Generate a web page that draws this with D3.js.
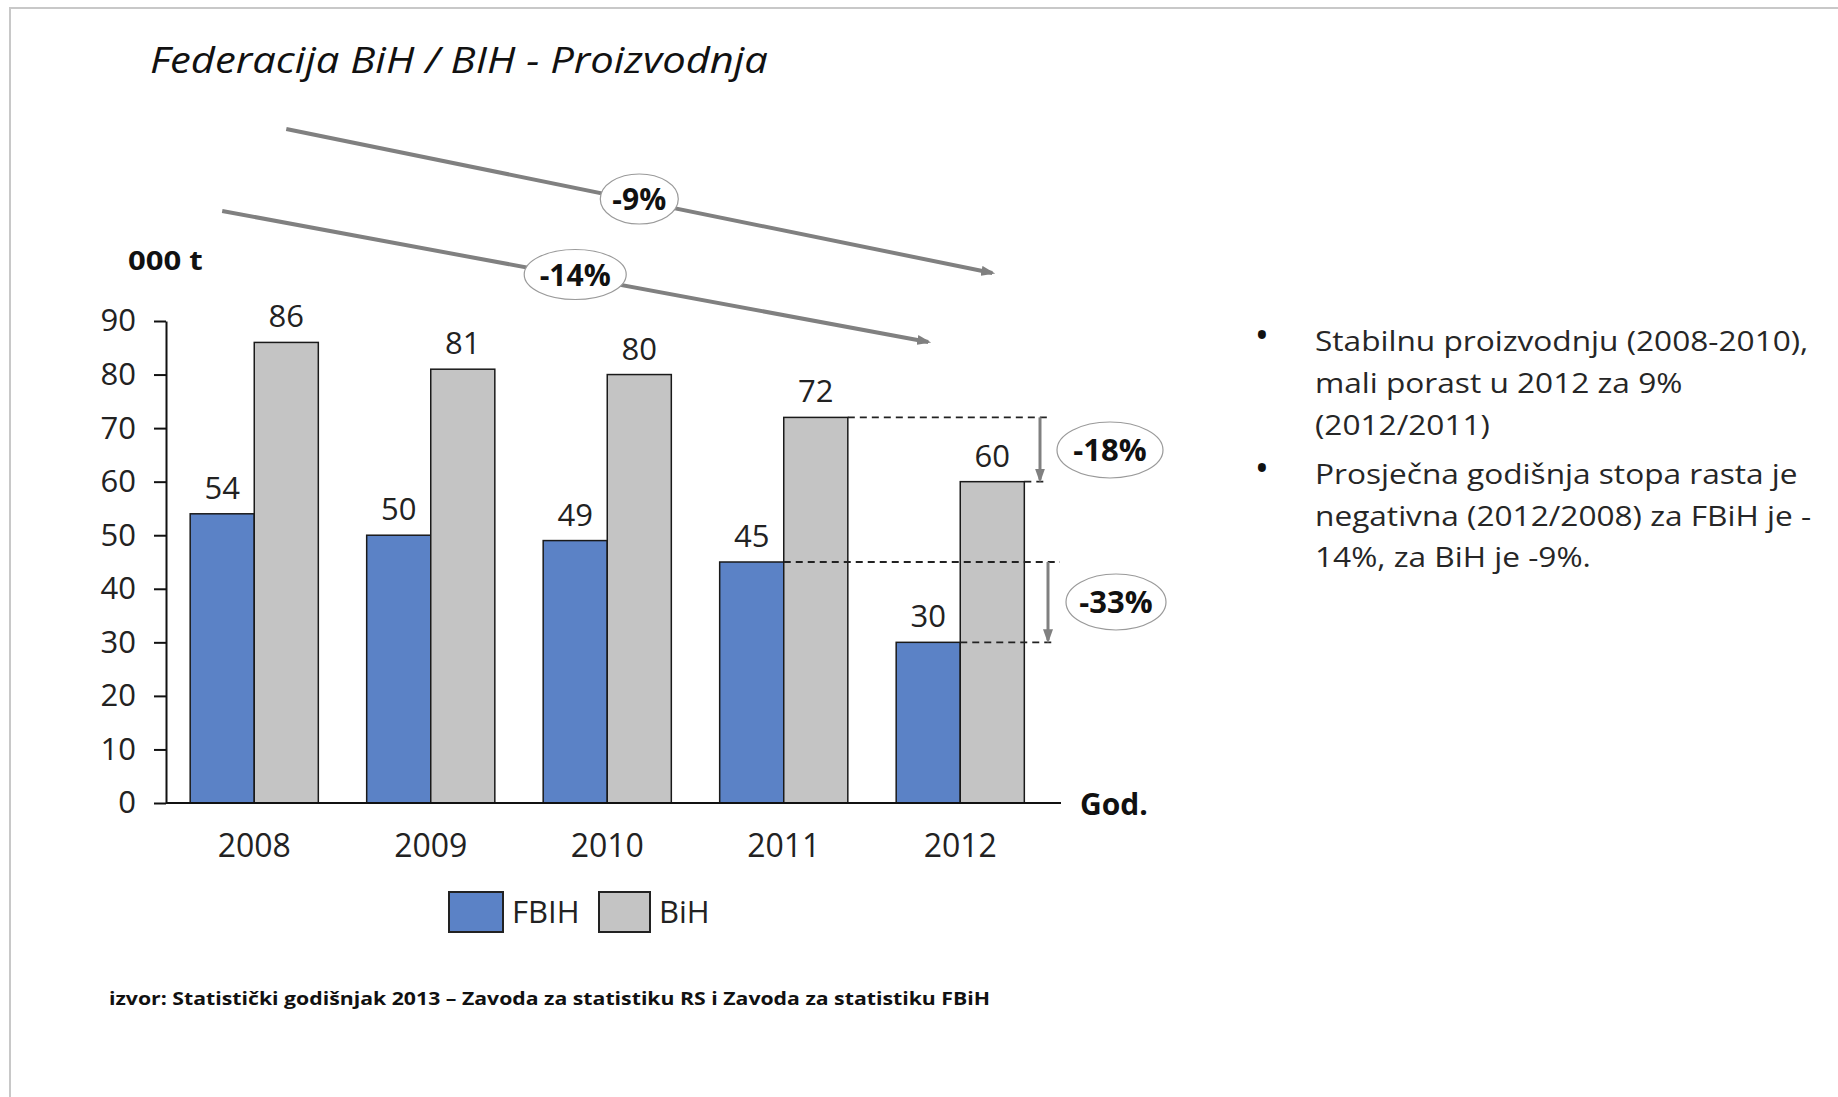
<!DOCTYPE html>
<html><head><meta charset="utf-8">
<script src="https://cdn.jsdelivr.net/npm/d3@7"></script>
<style>
body{margin:0;background:#fff}
svg{display:block}
text{font-family:"Open Sans",sans-serif}
</style>
</head><body>
<svg id="c" width="1838" height="1097"></svg>
<script>
// ---- data ----
const years = ["2008", "2009", "2010", "2011", "2012"];
const seriesNames = ["FBIH", "BiH"];
const fbih = [54, 50, 49, 45, 30];
const bih = [86, 81, 80, 72, 60];
const yTicks = [0, 10, 20, 30, 40, 50, 60, 70, 80, 90];
const trendLabels = ["-9%", "-14%"];          // BiH avg growth, FBiH avg growth
const changeLabels = ["-18%", "-33%"];        // BiH 2012/2011, FBiH 2012/2011
const titleText = "Federacija BiH / BIH - Proizvodnja";
const unitText = "000 t";
const xAxisText = "God.";
const sourceText = "izvor: Statistički godišnjak  2013 – Zavoda za statistiku RS i Zavoda za statistiku FBiH";
const bullets = [
  ["Stabilnu proizvodnju (2008-2010),", "mali porast u 2012 za 9%", "(2012/2011)"],
  ["Prosječna godišnja stopa rasta je", "negativna (2012/2008) za FBiH je -", "14%, za BiH je -9%."]
];

// ---- layout ----
const colors = {FBIH: "#5b82c6", BiH: "#c4c4c4"};
const values = {FBIH: fbih, BiH: bih};
const svg = d3.select("#c");

// slide frame
svg.append("rect").attr("x", 10).attr("y", 8).attr("width", 1900).attr("height", 1200)
  .attr("fill", "none").attr("stroke", "#c8c8c8").attr("stroke-width", 2);

const x0 = d3.scaleBand().domain(years).range([166, 1048.5]).paddingInner(0.274).paddingOuter(0.137);
const x1 = d3.scaleBand().domain(seriesNames).range([0, x0.bandwidth()]);
const y = d3.scaleLinear().domain([0, 90]).range([803, 321]);

// markers
const defs = svg.append("defs");
defs.append("marker").attr("id", "ah").attr("markerUnits", "userSpaceOnUse")
  .attr("viewBox", "0 0 14 10").attr("markerWidth", 14).attr("markerHeight", 10)
  .attr("refX", 11).attr("refY", 5).attr("orient", "auto")
  .append("path").attr("d", "M0,0 L14,5 L0,10 Z").attr("fill", "#808080");

// title
svg.append("text").attr("x", 150).attr("y", 73).attr("font-size", 37).attr("font-style", "italic")
  .attr("fill", "#111").attr("textLength", 618).attr("lengthAdjust", "spacingAndGlyphs").text(titleText);

// unit label
svg.append("text").attr("transform", "translate(128,270) scale(1.15,1)").attr("font-size", 27)
  .attr("font-weight", "bold").attr("fill", "#111").text(unitText);

// y axis
const yAxis = svg.append("g").attr("transform", "translate(166,0)")
  .call(d3.axisLeft(y).tickValues(yTicks).tickSize(12).tickSizeOuter(0).tickPadding(18));
yAxis.select(".domain").attr("stroke", "#111").attr("stroke-width", 2);
yAxis.selectAll(".tick line").attr("stroke", "#111").attr("stroke-width", 2);
yAxis.selectAll("text").attr("font-size", 31).attr("fill", "#222").attr("font-family", "Open Sans");

// bars
const groups = svg.append("g").selectAll("g").data(years).join("g")
  .attr("transform", d => `translate(${x0(d)},0)`);
groups.selectAll("rect").data((d, i) => seriesNames.map(s => ({s, v: values[s][i]}))).join("rect")
  .attr("x", d => x1(d.s)).attr("width", x1.bandwidth())
  .attr("y", d => y(d.v)).attr("height", d => y(0) - y(d.v))
  .attr("fill", d => colors[d.s]).attr("stroke", "#1a1a1a").attr("stroke-width", 1.5);
groups.selectAll("text.val").data((d, i) => seriesNames.map(s => ({s, v: values[s][i]}))).join("text")
  .attr("class", "val").attr("x", d => x1(d.s) + x1.bandwidth() / 2).attr("y", d => y(d.v) - 15)
  .attr("text-anchor", "middle").attr("font-size", 31).attr("fill", "#222").text(d => d.v);

// x axis
svg.append("line").attr("x1", 166).attr("x2", 1061).attr("y1", y(0)).attr("y2", y(0))
  .attr("stroke", "#111").attr("stroke-width", 2);
const xAxis = svg.append("g").attr("transform", `translate(0,${y(0)})`)
  .call(d3.axisBottom(x0).tickSize(0).tickSizeOuter(0).tickPadding(31));
xAxis.select(".domain").remove();
xAxis.selectAll("text").attr("font-size", 32).attr("fill", "#222").attr("font-family", "Open Sans");

svg.append("text").attr("x", 1080).attr("y", 815).attr("font-size", 30).attr("font-weight", "bold")
  .attr("fill", "#111").text(xAxisText);

// trend arrows (average growth 2008-2012)
const cx = (yr, s) => x0(yr) + x1(s) + x1.bandwidth() / 2;
const trends = [
  {s: "BiH", ya: 129, yb: 273, label: trendLabels[0], rx: 39, ry: 25},
  {s: "FBIH", ya: 211, yb: 342, label: trendLabels[1], rx: 51, ry: 25}
];
trends.forEach(t => {
  const xa = cx(years[0], t.s), xb = cx(years[4], t.s);
  svg.append("line").attr("x1", xa).attr("y1", t.ya).attr("x2", xb).attr("y2", t.yb)
    .attr("stroke", "#808080").attr("stroke-width", 4).attr("marker-end", "url(#ah)");
  const mx = (xa + xb) / 2, my = (t.ya + t.yb) / 2 - 2;
  svg.append("ellipse").attr("cx", mx).attr("cy", my).attr("rx", t.rx).attr("ry", t.ry)
    .attr("fill", "#fff").attr("stroke", "#9a9a9a").attr("stroke-width", 1.2);
  svg.append("text").attr("x", mx).attr("y", my + 11).attr("text-anchor", "middle")
    .attr("font-size", 30).attr("font-weight", "bold").attr("fill", "#111").text(t.label);
});

// 2012/2011 change annotations
const dash = (xa, xb, yy) => svg.append("line").attr("x1", xa).attr("x2", xb).attr("y1", yy).attr("y2", yy)
  .attr("stroke", "#222").attr("stroke-width", 1.8).attr("stroke-dasharray", "7,5");
const changes = [
  {s: "BiH", i: 3, j: 4, ax: 1040, endA: 1047, endB: 1047, ex: 1110, ey: 450, rx: 53, ry: 28, label: changeLabels[0]},
  {s: "FBIH", i: 3, j: 4, ax: 1048, endA: 1060, endB: 1052, ex: 1116, ey: 602, rx: 50, ry: 28, label: changeLabels[1]}
];
changes.forEach(c => {
  const va = values[c.s][c.i], vb = values[c.s][c.j];
  dash(x0(years[c.i]) + x1(c.s) + x1.bandwidth(), c.endA, y(va));
  dash(x0(years[c.j]) + x1(c.s) + x1.bandwidth(), c.endB, y(vb));
  svg.append("line").attr("x1", c.ax).attr("x2", c.ax).attr("y1", y(va)).attr("y2", y(vb) - 2)
    .attr("stroke", "#808080").attr("stroke-width", 3).attr("marker-end", "url(#ah)");
  svg.append("ellipse").attr("cx", c.ex).attr("cy", c.ey).attr("rx", c.rx).attr("ry", c.ry)
    .attr("fill", "#fff").attr("stroke", "#9a9a9a").attr("stroke-width", 1.2);
  svg.append("text").attr("x", c.ex).attr("y", c.ey + 11).attr("text-anchor", "middle")
    .attr("font-size", 31).attr("font-weight", "bold").attr("fill", "#111").text(c.label);
});

// legend
const legendPos = [{s: "FBIH", x: 449, w: 54}, {s: "BiH", x: 599, w: 51}];
legendPos.forEach(l => {
  svg.append("rect").attr("x", l.x).attr("y", 892).attr("width", l.w).attr("height", 40)
    .attr("fill", colors[l.s]).attr("stroke", "#222").attr("stroke-width", 2);
  svg.append("text").attr("x", l.x + l.w + 9).attr("y", 923).attr("font-size", 31)
    .attr("fill", "#222").text(l.s);
});

// source
svg.append("text").attr("x", 109).attr("y", 1005).attr("font-size", 18).attr("font-weight", "bold")
  .attr("fill", "#111").attr("textLength", 881).attr("lengthAdjust", "spacingAndGlyphs").text(sourceText);

// bullets
const lineBase = [[351, 393, 435], [484, 526, 567]];
bullets.forEach((para, pi) => {
  svg.append("text").attr("x", 1262).attr("y", lineBase[pi][0] - 2).attr("font-size", 38)
    .attr("text-anchor", "middle").attr("fill", "#111").text("•");
  para.forEach((ln, li) => {
    svg.append("text").attr("transform", `translate(1315,${lineBase[pi][li]}) scale(1.15,1)`)
      .attr("font-size", 27.5).attr("fill", "#262626").text(ln);
  });
});
</script>
</body></html>
